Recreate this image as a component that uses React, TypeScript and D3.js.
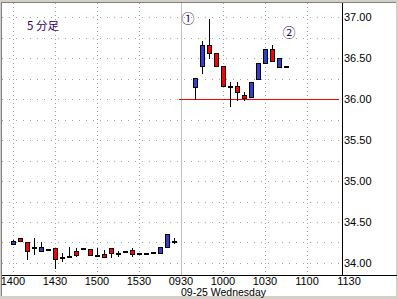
import React from 'react';
import * as d3 from 'd3';

// ---- data ----
const day1Slots = ['1400','1405','1410','1415','1420','1425','1430','1435','1440','1445','1450','1455','1500','1505','1510','1515','1520','1525','1530','1535','1540','1545','1550','1555'];
const day2Slots = ['0930','0935','0940','0945','0950','0955','1000','1005','1010','1015','1020','1025','1030','1035','1040','1045','1050','1055','1100','1105','1110','1115','1120','1125','1130'];

const candleTimes = ['d1-1400','d1-1405','d1-1410','d1-1415','d1-1420','d1-1425','d1-1430','d1-1435','d1-1440','d1-1445','d1-1450','d1-1455','d1-1500','d1-1505','d1-1510','d1-1515','d1-1520','d1-1525','d1-1530','d1-1535','d1-1540','d1-1545','d1-1550','d1-1555',
  'd2-0940','d2-0945','d2-0950','d2-0955','d2-1000','d2-1005','d2-1010','d2-1015','d2-1020','d2-1025','d2-1030','d2-1035','d2-1040','d2-1045'];
const opens  = [34.23,34.30,34.26,34.19,34.15,34.17,34.18,34.07,34.09,34.15,34.18,34.17,34.10,34.11,34.18,34.12,34.15,34.16,34.12,34.12,34.13,34.12,34.20,34.27,
  36.15,36.40,36.66,36.56,36.40,36.16,36.16,36.05,36.02,36.24,36.44,36.61,36.39,36.40];
const highs  = [34.28,34.31,34.26,34.30,34.26,34.17,34.18,34.12,34.20,34.18,34.18,34.17,34.18,34.16,34.18,34.15,34.15,34.18,34.12,34.12,34.13,34.20,34.35,34.30,
  36.26,36.71,36.98,36.56,36.40,36.21,36.21,36.085,36.21,36.44,36.61,36.66,36.50,36.40];
const lows   = [34.23,34.27,34.05,34.11,34.15,34.17,33.94,34.02,34.09,34.09,34.18,34.10,34.10,34.07,34.07,34.09,34.15,34.09,34.12,34.12,34.13,34.12,34.20,34.24,
  36.00,36.32,36.50,36.40,36.16,35.91,35.99,35.99,36.02,36.24,36.44,36.46,36.39,36.40];
const closes = [34.27,34.27,34.15,34.19,34.20,34.17,34.05,34.07,34.09,34.10,34.18,34.10,34.10,34.07,34.12,34.12,34.15,34.11,34.12,34.12,34.13,34.20,34.35,34.27,
  36.26,36.66,36.56,36.40,36.16,36.16,36.085,36.01,36.21,36.44,36.61,36.46,36.50,36.40];

const yTicks = [34.0, 34.5, 35.0, 35.5, 36.0, 36.5, 37.0];
const xTickSlots = ['d1-1400','d1-1430','d1-1500','d1-1530','d2-0930','d2-1000','d2-1030','d2-1100','d2-1130'];
const xTickLabels = ['1400','1430','1500','1530','0930','1000','1030','1100','1130'];
const dayLabel = '09-25 Wednesday';
const periodLabel = '5 分足';
const refLevel = 36.0;

const W = 398, H = 299;
const BLUE = '#2f3fd0';
const RED = '#ff0000';
const PURPLE = '#330066';
const FONT = '"Liberation Sans", Arial, sans-serif';
const CJK = '"Noto Sans CJK JP", sans-serif';

export default function App() {
  const slots = [...day1Slots.map(s => 'd1-' + s), ...day2Slots.map(s => 'd2-' + s)];
  const x = d3.scalePoint<string>().domain(slots).range([13, 349]);
  const y = d3.scaleLinear().domain([34, 37]).range([263, 17]);
  const plotL = 2, plotR = 342, plotT = 3, plotB = 275;
  const gridVals = d3.range(34, 37.001, 0.25);
  const sep = x('d2-0930')!;

  return (
    <svg width={W} height={H} style={{ position: 'absolute', left: 0, top: 0 }} shapeRendering="crispEdges">
      <rect x={0} y={0} width={W} height={H} fill="#d4d0c8" />
      <rect x={1} y={2} width={395} height={294} fill="#ffffff" />
      <line x1={1.5} x2={1.5} y1={2} y2={296} stroke="#808080" />
      <line x1={1} x2={396} y1={2.5} y2={2.5} stroke="#808080" />

      {/* horizontal grid */}
      {gridVals.map((v, i) => (
        <line key={'h' + i} x1={plotL} x2={plotR} y1={Math.round(y(v)) + 0.5} y2={Math.round(y(v)) + 0.5}
          stroke="#a0a0a0" strokeDasharray="1 6" />
      ))}
      {/* vertical grid */}
      {xTickSlots.filter(s => s !== 'd2-0930' && s !== 'd2-1130').map(s => (
        <line key={'v' + s} x1={x(s)! + 0.5} x2={x(s)! + 0.5} y1={plotT} y2={plotB}
          stroke="#a0a0a0" strokeDasharray="1 3" />
      ))}
      <line x1={sep + 0.5} x2={sep + 0.5} y1={plotT} y2={plotB} stroke="#c0c0c0" />

      {/* reference line */}
      <line x1={179} x2={339} y1={Math.round(y(refLevel)) + 0.5} y2={Math.round(y(refLevel)) + 0.5} stroke={RED} />

      {/* candles */}
      {candleTimes.map((t, i) => {
        const cx = x(t)!;
        const o = opens[i], c = closes[i];
        const top = Math.round(y(Math.max(o, c)));
        const bot = Math.round(y(Math.min(o, c)));
        const hy = Math.round(y(highs[i]));
        const ly = Math.round(y(lows[i]));
        const fill = c > o ? BLUE : c < o ? RED : '#000';
        return (
          <g key={t}>
            <line x1={cx + 0.5} x2={cx + 0.5} y1={hy} y2={ly + 1} stroke="#000" />
            <rect x={cx - 1.5} y={top + 0.5} width={4} height={Math.max(1, bot - top)} fill={fill} stroke="#000" />
          </g>
        );
      })}

      {/* axes */}
      <line x1={plotR + 0.5} x2={plotR + 0.5} y1={plotT} y2={plotB} stroke="#000" />
      <line x1={plotL} x2={397} y1={plotB + 0.5} y2={plotB + 0.5} stroke="#000" />

      {yTicks.map(v => (
        <text key={'yt' + v} x={344} y={y(v) + 4} fontFamily={FONT} fontSize={11} fill="#000">{v.toFixed(2)}</text>
      ))}
      {xTickSlots.map((s, i) => (
        <text key={'xt' + s} x={x(s)!} y={285} textAnchor="middle" fontFamily={FONT} fontSize={11} fill="#000">{xTickLabels[i]}</text>
      ))}
      <text x={181} y={295.5} fontFamily={FONT} fontSize={10.5} fill="#000">{dayLabel}</text>

      <text x={27} y={30} fontFamily={CJK} fontSize={11.5} fill={PURPLE}>{periodLabel}</text>
      <text x={188} y={23} textAnchor="middle" fontFamily={CJK} fontSize={13} fill={PURPLE}>①</text>
      <text x={289} y={37} textAnchor="middle" fontFamily={CJK} fontSize={13} fill={PURPLE}>②</text>
    </svg>
  );
}
